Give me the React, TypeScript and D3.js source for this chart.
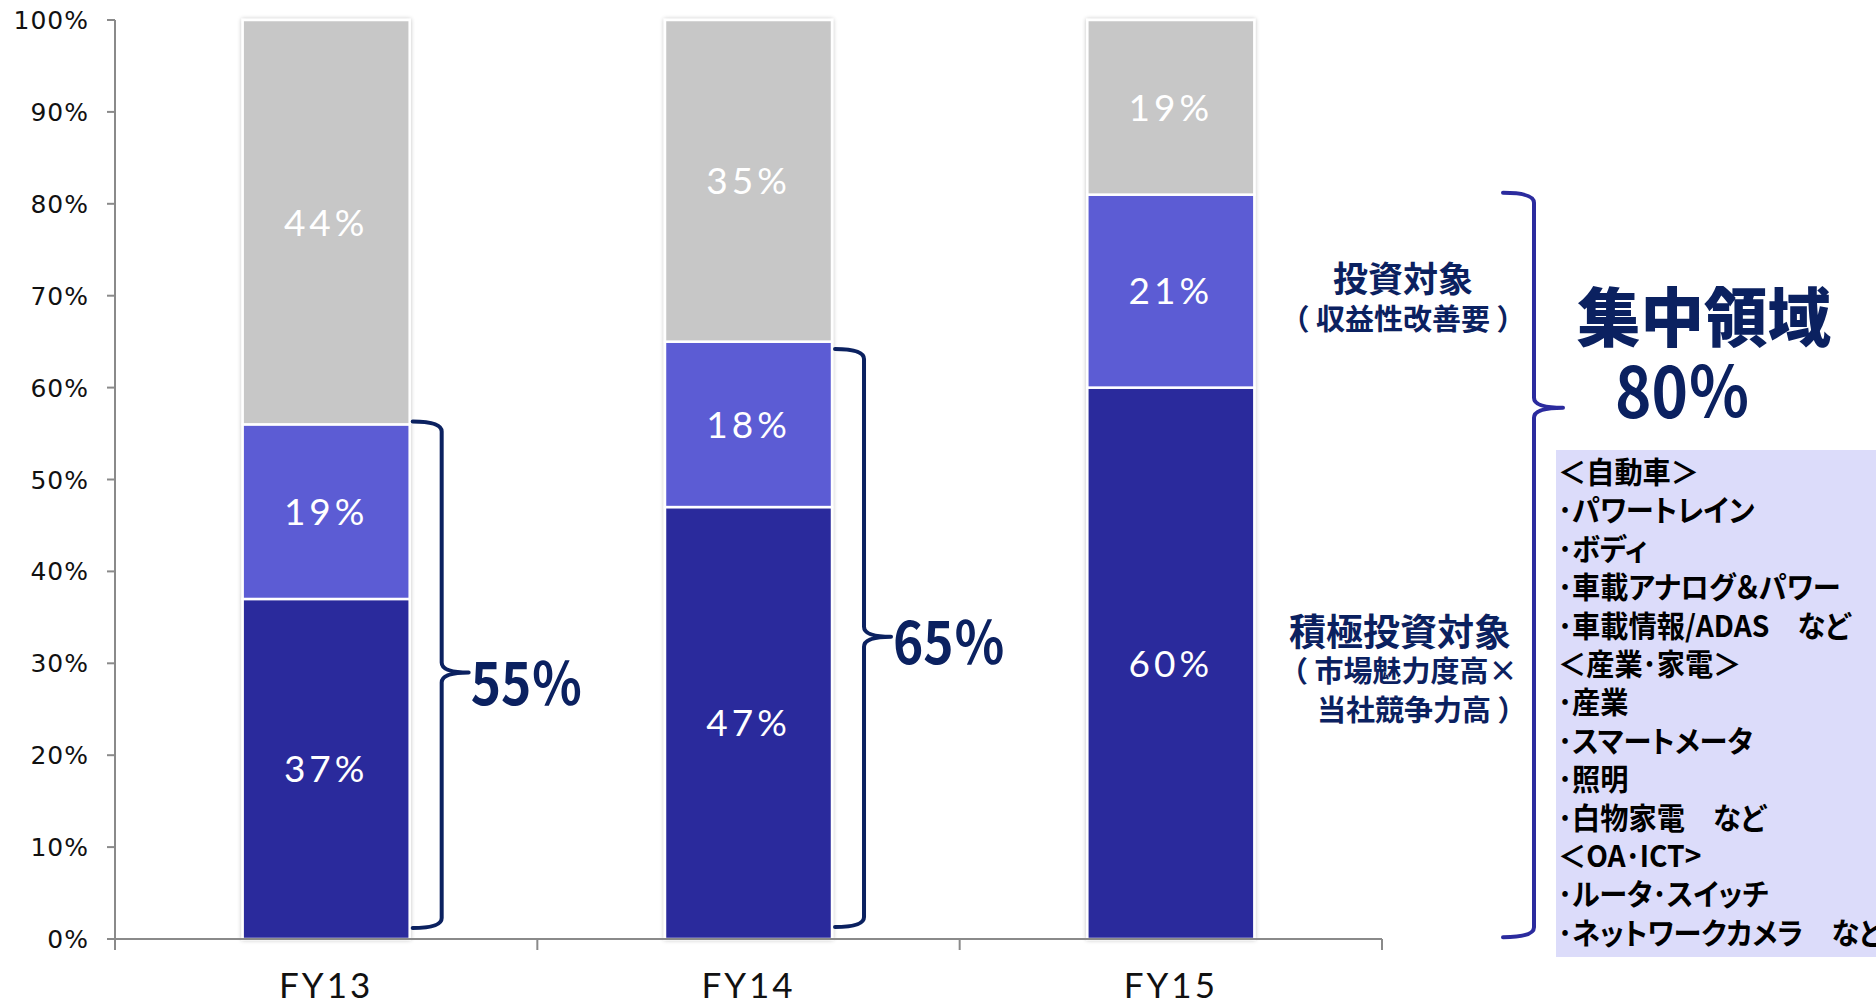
import React from "react";
import * as d3 from "d3";

const categories = ["FY13", "FY14", "FY15"];
const strategic = [37, 47, 60]; // 積極投資対象
const investment = [19, 18, 21]; // 投資対象
const others = [44, 35, 19];
const yTicks = [0, 10, 20, 30, 40, 50, 60, 70, 80, 90, 100];

// brace annotations (in % units of the axis)
const braceCats = ["FY13", "FY14"];
const braceFrom = [1.2, 1.3];
const braceTo = [56.3, 64.2];
const braceTip = [29.0, 32.9];
const braceLabels = ["55％", "65％"];

const boxLines = [
  "＜自動車＞",
  "･パワートレイン",
  "･ボディ",
  "･車載アナログ＆パワー",
  "･車載情報/ADAS　など",
  "＜産業･家電＞",
  "･産業",
  "･スマートメータ",
  "･照明",
  "･白物家電　など",
  "＜OA･ICT>",
  "･ルータ･スイッチ",
  "･ネットワークカメラ　など",
];

const W = 1876;
const H = 1004;
const COLORS = ["#2B2A9C", "#5C5BD4", "#C7C7C7"];
const NAVY = "#0B2160";
const JP = "'Noto Sans CJK JP', 'Noto Sans', sans-serif";
const LAT = "Lato, 'Open Sans', sans-serif";
const DV = "'DejaVu Sans', sans-serif";

function bracePath(x0: number, xv: number, xt: number, yTop: number, yBot: number, yMid: number) {
  const r = 10;
  const p = d3.path();
  p.moveTo(x0, yTop);
  p.quadraticCurveTo(xv, yTop, xv, yTop + r);
  p.lineTo(xv, yMid - r);
  p.quadraticCurveTo(xv, yMid, xt, yMid);
  p.moveTo(xt, yMid);
  p.quadraticCurveTo(xv, yMid, xv, yMid + r);
  p.lineTo(xv, yBot - r);
  p.quadraticCurveTo(xv, yBot, x0, yBot);
  return p.toString();
}

export default function App() {
  const x = d3
    .scaleBand<string>()
    .domain(categories)
    .range([115, 1382])
    .paddingInner(0.6045)
    .paddingOuter(0.30225);
  const y = d3.scaleLinear().domain([0, 100]).range([939, 20]);
  const bw = x.bandwidth();
  const step = x.step();

  const series = [strategic, investment, others];
  const stackData = categories.map((c, i) => ({
    cat: c,
    a: strategic[i],
    b: investment[i],
    c: others[i],
  }));
  const stack = d3.stack<any>().keys(["a", "b", "c"])(stackData);

  const boundaries = d3.range(categories.length + 1).map((i) => 115 + i * step);

  return (
    <svg width={W} height={H} style={{ position: "absolute", left: 0, top: 0, background: "#fff" }}>
      <defs>
        <filter id="sh" x="-10%" y="-5%" width="120%" height="110%">
          <feGaussianBlur in="SourceAlpha" stdDeviation="2" />
          <feComponentTransfer>
            <feFuncA type="linear" slope="0.25" />
          </feComponentTransfer>
          <feMerge>
            <feMergeNode />
            <feMergeNode in="SourceGraphic" />
          </feMerge>
        </filter>
      </defs>

      {/* bars */}
      {categories.map((c, i) => (
        <g key={c} filter="url(#sh)">
          {stack.map((s, k) => {
            const d = s[i];
            return (
              <rect
                key={k}
                x={x(c)!}
                y={y(d[1])}
                width={bw}
                height={y(d[0]) - y(d[1])}
                fill={COLORS[k]}
                stroke="#fff"
                strokeWidth={2.5}
              />
            );
          })}
        </g>
      ))}
      {categories.map((c, i) =>
        stack.map((s, k) => {
          const d = s[i];
          return (
            <text
              key={c + k}
              x={x(c)! + bw / 2}
              y={(y(d[0]) + y(d[1])) / 2}
              dy="0.36em"
              textAnchor="middle"
              fill="#fff"
              fontFamily={LAT}
              fontWeight={400}
              fontSize={37}
              letterSpacing={4}
            >
              {series[k][i]}%
            </text>
          );
        })
      )}

      {/* y axis */}
      <line x1={115} x2={115} y1={y(100)} y2={950} stroke="#8a8a8a" strokeWidth={2} />
      {yTicks.map((t) => (
        <g key={t}>
          <line x1={107} x2={115} y1={y(t)} y2={y(t)} stroke="#8a8a8a" strokeWidth={2} />
          <text
            x={89}
            y={y(t)}
            dy="0.36em"
            textAnchor="end"
            fontFamily={DV}
            fontSize={25}
            letterSpacing={1}
            fill="#111"
          >
            {t}%
          </text>
        </g>
      ))}
      {/* x axis */}
      <line x1={115} x2={1382} y1={y(0)} y2={y(0)} stroke="#8a8a8a" strokeWidth={2} />
      {boundaries.map((b, i) => (
        <line key={i} x1={b} x2={b} y1={y(0)} y2={950} stroke="#8a8a8a" strokeWidth={2} />
      ))}
      {categories.map((c) => (
        <text
          key={c}
          x={x(c)! + bw / 2}
          y={998}
          textAnchor="middle"
          fontFamily={LAT}
          fontSize={35}
          letterSpacing={3}
          fill="#111"
        >
          {c}
        </text>
      ))}

      {/* braces for FY13, FY14 */}
      {braceCats.map((c, i) => {
        const x0 = x(c)! + bw + 3;
        const xv = x0 + 29;
        const xt = xv + 27;
        return (
          <g key={c}>
            <path
              d={bracePath(x0, xv, xt, y(braceTo[i]), y(braceFrom[i]), y(braceTip[i]))}
              fill="none"
              stroke={NAVY}
              strokeWidth={4}
              strokeLinecap="round"
            />
            <text
              x={xt + 2}
              y={y(braceTip[i]) + (i === 0 ? 33 : 27)}
              fontFamily={JP}
              fontWeight={700}
              fontSize={58}
              fill={NAVY}
              textLength={112}
              lengthAdjust="spacingAndGlyphs"
            >
              {braceLabels[i]}
            </text>
          </g>
        );
      })}

      {/* FY15 brace */}
      <path
        d={bracePath(1503, 1534, 1563, y(81.2), y(0.2), y(57.8))}
        fill="none"
        stroke="#2B2B9E"
        strokeWidth={4}
        strokeLinecap="round"
      />

      {/* side labels */}
      <text x={1403} y={292} textAnchor="middle" fontFamily={JP} fontWeight={700} fontSize={35} fill={NAVY}>
        投資対象
      </text>
      <text x={1403} y={330} textAnchor="middle" fontFamily={JP} fontWeight={700} fontSize={29} fill={NAVY}>
        （ 収益性改善要 ）
      </text>
      <text x={1400} y={646} textAnchor="middle" fontFamily={JP} fontWeight={700} fontSize={37} fill={NAVY}>
        積極投資対象
      </text>
      <text x={1279} y={682} fontFamily={JP} fontWeight={700} fontSize={29} fill={NAVY}>
        （ 市場魅力度高×
      </text>
      <text x={1317} y={721} fontFamily={JP} fontWeight={700} fontSize={29} fill={NAVY}>
        当社競争力高 ）
      </text>
      <text
        x={1704}
        y={341}
        textAnchor="middle"
        fontFamily={JP}
        fontWeight={900}
        fontSize={64}
        fill={NAVY}
        textLength={254}
        lengthAdjust="spacingAndGlyphs"
      >
        集中領域
      </text>
      <text
        x={1615}
        y={418}
        fontFamily={JP}
        fontWeight={700}
        fontSize={70}
        fill={NAVY}
        textLength={135}
        lengthAdjust="spacingAndGlyphs"
      >
        80％
      </text>

      {/* box */}
      <rect x={1556} y={450} width={W - 1556} height={507} fill="#DCDCFA" />
      <g transform="translate(1558,0) scale(0.94,1)">
        {boxLines.map((l, i) => (
          <text
            key={i}
            x={0}
            y={483 + i * 38.4}
            fontFamily={JP}
            fontWeight={700}
            fontSize={30}
            fill="#000"
            style={{ fontFeatureSettings: "'palt'" }}
          >
            {l}
          </text>
        ))}
      </g>
    </svg>
  );
}
